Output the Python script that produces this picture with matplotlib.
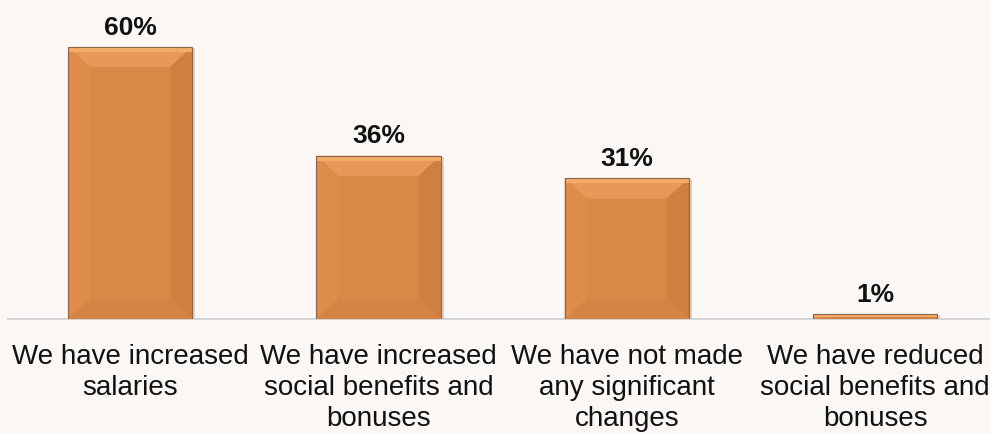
import numpy as np
import matplotlib.pyplot as plt
from matplotlib.patches import Polygon
from matplotlib.transforms import offset_copy

categories = ["We have increased\nsalaries",
              "We have increased\nsocial benefits and\nbonuses",
              "We have not made\nany significant\nchanges",
              "We have reduced\nsocial benefits and\nbonuses"]
values = [60, 36, 31, 1]

bg = "#FAF7F4"
face = "#D98846"

fig = plt.figure(figsize=(9.9, 4.35), dpi=100, facecolor=bg)
ax = fig.add_axes([0.0, 0.2644, 1.0, 0.7356])
ax.set_facecolor(bg)

x = np.arange(len(categories))
left = -0.5 - 6 / 248.3
ax.set_xlim(left, left + 990 / 248.3)
ax.set_ylim(0, 70.6)

# soft drop shadow
shadow_tr = offset_copy(ax.transData, fig=fig, x=3, y=-1, units="dots")
ax.bar(x, values, width=0.5, color="#B8B2AC", alpha=0.55, transform=shadow_tr, zorder=1)

bars = ax.bar(x, values, width=0.5, color=face, edgecolor="none", zorder=2)

# bevel: light top/left, darker right/bottom
fig.canvas.draw()
px_x = (ax.get_xlim()[1] - ax.get_xlim()[0]) / (ax.bbox.width)
px_y = (ax.get_ylim()[1] - ax.get_ylim()[0]) / (ax.bbox.height)
for b in bars:
    x0, y0 = b.get_x(), b.get_y()
    x1, y1 = x0 + b.get_width(), y0 + b.get_height()
    bx = min(22 * px_x, b.get_width() / 2)
    by = min(20 * px_y, b.get_height() / 2)
    ix0, ix1, iy0, iy1 = x0 + bx, x1 - bx, y0 + by, y1 - by
    sides = [
        ([(x0, y1), (x1, y1), (ix1, iy1), (ix0, iy1)], "#E8995A"),
        ([(x0, y0), (x0, y1), (ix0, iy1), (ix0, iy0)], "#DD8C4A"),
        ([(x1, y0), (x1, y1), (ix1, iy1), (ix1, iy0)], "#CF7F40"),
        ([(x0, y0), (x1, y0), (ix1, iy0), (ix0, iy0)], "#D48545"),
    ]
    for pts, c in sides:
        ax.add_patch(Polygon(pts, closed=True, facecolor=c, edgecolor="none", zorder=3))
    # thin highlight along the top edge
    hy = min(5 * px_y, (y1 - y0) / 2)
    ax.add_patch(Polygon([(x0, y1), (x1, y1), (x1, y1 - hy), (x0, y1 - hy)],
                         closed=True, facecolor="#F4AB68", edgecolor="none", zorder=3))
    ax.add_patch(plt.Rectangle((x0, y0), x1 - x0, y1 - y0, fill=False,
                               edgecolor="#8E6444", linewidth=0.8, zorder=4))

for xi, v in zip(x, values):
    ax.annotate(f"{v}%", (xi, v), xytext=(0, 6), textcoords="offset points",
                ha="center", va="bottom", fontsize=19, fontweight="bold",
                family="Liberation Sans", color="#111111")

for xi, lab in zip(x, categories):
    ax.annotate(lab, (xi, 0), xytext=(0, -17), textcoords="offset points",
                ha="center", va="top", fontsize=20, family="Liberation Sans",
                linespacing=1.25, color="#111111", annotation_clip=False)

for s in ["top", "right", "left"]:
    ax.spines[s].set_visible(False)
ax.spines["bottom"].set_color("#CFCFCF")
ax.spines["bottom"].set_linewidth(1.2)
ax.spines["bottom"].set_bounds(left + 8 / 248.3, left + 990 / 248.3)
ax.set_xticks([])
ax.set_yticks([])

fig.savefig("out.png", dpi=100, facecolor=bg)
